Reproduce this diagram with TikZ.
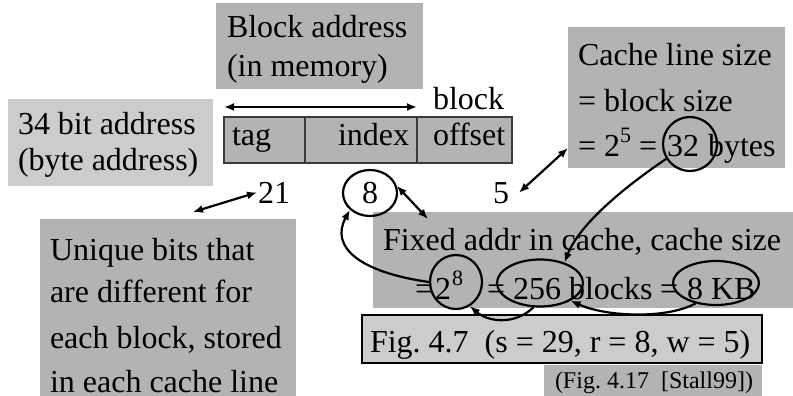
\documentclass[tikz,border=0pt]{standalone}
\usepackage{fontspec}
\setmainfont{Liberation Serif}
\usetikzlibrary{shapes.geometric,arrows.meta}
\definecolor{medgray}{RGB}{179,179,179}
\definecolor{lightgray}{RGB}{204,204,204}
\definecolor{edgegray}{RGB}{60,60,60}
\newcommand{\mysup}[1]{\raisebox{14pt}{\fontsize{22}{22}\selectfont #1}}
\frenchspacing
\begin{document}
\begin{tikzpicture}[x=1pt,y=-1pt,
  box/.style={anchor=north west, inner sep=0pt, outer sep=0pt, draw=none},
  field/.style={box, fill=medgray, draw=edgegray, line width=1.3pt, minimum height=46, minimum width=#1},
  txt/.style={anchor=base west, inner sep=0pt, outer sep=0pt, font=\fontsize{32}{44}\selectfont},
  ring/.style={ellipse, draw=black, line width=2.2pt, inner sep=0pt, minimum width=#1},
  conn/.style={line width=2.2pt, -{Latex[length=10pt,width=8pt]}},
  dconn/.style={line width=2.2pt, {Latex[length=10pt,width=8pt]}-{Latex[length=10pt,width=8pt]}}
]
\useasboundingbox (0,0) rectangle (793,396);
% boxes
\node[box, fill=medgray, minimum width=207, minimum height=86] (blockaddr) at (216,3) {};
\node[box, fill=lightgray, minimum width=205, minimum height=87] (bitaddr) at (8,99) {};
\node[box, fill=medgray, minimum width=217, minimum height=141] (cache) at (568,27) {};
\node[box, fill=medgray, minimum width=420, minimum height=96] (fixed) at (373,212) {};
\node[box, fill=medgray, minimum width=256, minimum height=177] (unique) at (40,219) {};
\node[box, fill=lightgray, draw=black, line width=1.3pt, minimum width=400, minimum height=48] (fig) at (362,315) {};
\node[box, fill=medgray, minimum width=218, minimum height=31] (ref) at (544,365) {};
\node[field=81] (ftag) at (224,117) {};
\node[field=112] (findex) at (305,117) {};
\node[field=95] (foff) at (417,117) {};
% texts
\node[txt] (t1) at (227,38) {Block address};
\node[txt] (t2) at (227,77) {(in memory)};
\node[txt] (t3) at (18,135) {34 bit address};
\node[txt] (t4) at (18,170) {(byte address)};
\node[txt] (tblock) at (433,110) {block};
\node[txt] (ttag) at (232,146) {tag};
\node[txt] (tindex) at (338,146) {index};
\node[txt] (toff) at (433,146) {offset};
\node[txt] (c1) at (578,66) {Cache line size};
\node[txt] (c2) at (578,111) {= block size};
\node[txt] (c3) at (578,156) {= 2\mysup{5} =};
\node[txt] (c32t) at (667,156) {32};
\node[txt] (c3b) at (708,156) {bytes};
\node[txt] (n21) at (258,203) {21};
\node[txt] (n8) at (362,203) {8};
\node[txt] (n5) at (493,203) {5};
\node[txt] (f1) at (383,250) {Fixed addr in cache, cache size};
\node[txt] (f2) at (415,299) {=};
\node[txt] (f3) at (435,299) {2\hspace{1pt}\mysup{8}};
\node[txt] (f4) at (487,299) {=};
\node[txt] (f5) at (513,299) {256 blocks};
\node[txt] (f6) at (660,299) {=};
\node[txt] (f7) at (687,299) {8 KB};
\node[txt] (u1) at (50,260) {Unique bits that};
\node[txt] (u2) at (50,302) {are different for};
\node[txt] (u3) at (50,348) {each block, stored};
\node[txt] (u4) at (50,392) {in each cache line};
\node[txt] (figt) at (370,352) {Fig. 4.7\ \ (s = 29, r = 8, w = 5)};
\node[txt, font=\fontsize{24}{28}\selectfont] (reft) at (555,388) {(Fig. 4.17\ \ [Stall99])};
% circles
\node[ring=54, minimum height=46] (c8) at (370,193) {};
\node[ring=54, minimum height=54] (c32) at (690,144) {};
\node[ring=52, minimum height=54] (e28) at (456,282) {};
\node[ring=86, minimum height=47] (e256) at (540,283) {};
\node[ring=86, minimum height=44] (e8kb) at (716,283) {};
% connectors
\coordinate (t21) at (193,212);
\coordinate (fx) at (428,219);
\draw[dconn] ([yshift=10pt]ftag.north west) -- ([yshift=10pt]findex.north east);
\draw[dconn] (t21) -- ([xshift=-1pt]n21.west);
\draw[dconn] (c8.15) -- (fx);
\draw[dconn] ([xshift=10pt]n5.east) -- ([yshift=20pt]cache.south west);
\draw[conn] (c32.212) .. controls +(-43,29) and +(15,-38) .. (e256.40);
\draw[conn] (e28.west) .. controls +(-70,-10) and +(-20,37) .. (c8.220);
\draw[conn] (e256.255) .. controls +(-20,19) and +(17,15) .. (e28.300);
\draw[conn] (e8kb.225) .. controls +(-30,16) and +(35,16) .. (e256.330);
\end{tikzpicture}
\end{document}
